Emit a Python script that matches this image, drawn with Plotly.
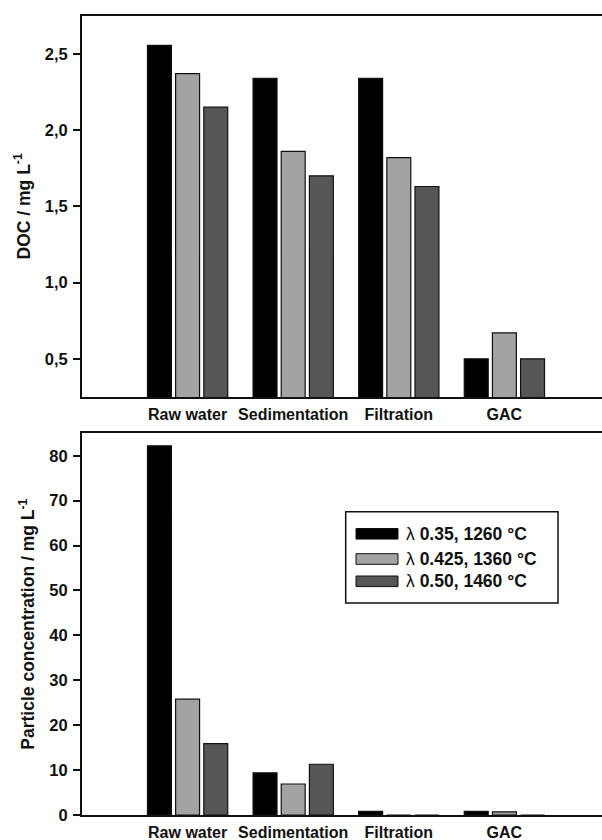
import plotly.graph_objects as go

categories = ["Raw water", "Sedimentation", "Filtration", "GAC"]
series_names = ["λ 0.35, 1260 °C", "λ 0.425, 1360 °C", "λ 0.50, 1460 °C"]
series_labels = ["0.35, 1260 °C", "0.425, 1360 °C", "0.50, 1460 °C"]
doc_035 = [2.555, 2.34, 2.34, 0.50]
doc_0425 = [2.37, 1.86, 1.82, 0.67]
doc_050 = [2.15, 1.70, 1.63, 0.50]
part_035 = [82.2, 9.4, 0.8, 0.8]
part_0425 = [25.8, 6.9, 0.0, 0.7]
part_050 = [15.9, 11.3, 0.0, 0.0]
colors = ["#000000", "#a3a3a3", "#565656"]

W, H = 602, 840
FONT = "Liberation Sans, Arial, sans-serif"

fig = go.Figure()
doc_series = [doc_035, doc_0425, doc_050]
part_series = [part_035, part_0425, part_050]
for i in range(3):
    fig.add_trace(go.Bar(x=categories, y=doc_series[i], name=series_names[i],
                         marker=dict(color=colors[i], line=dict(color="#111111", width=1.2)),
                         xaxis="x", yaxis="y", showlegend=False, hoverinfo="skip"))
for i in range(3):
    fig.add_trace(go.Bar(x=categories, y=part_series[i], name=series_names[i],
                         marker=dict(color=colors[i], line=dict(color="#111111", width=1.2)),
                         xaxis="x2", yaxis="y2", showlegend=False, hoverinfo="skip"))

def px_x(p):
    return p / W

def px_y(p):
    return 1 - p / H

tickfont = dict(family=FONT, size=16.5, color="#111111", weight="bold")
titlefont = dict(family=FONT, size=17.5, color="#111111", weight="bold")
xr = [-1, -1 + (W - 82) / 105.6]

common_x = dict(type="category", range=xr, showline=True, linewidth=2, linecolor="#111111",
                mirror=True, ticks="", tickfont=dict(family=FONT, size=16, color="#111111", weight="bold"),
                ticklabelstandoff=2, showgrid=False, zeroline=False, automargin=False)
common_y = dict(showline=True, linewidth=2, linecolor="#111111", ticks="outside", ticklen=7,
                tickwidth=1.5, tickcolor="#111111", tickfont=tickfont, showgrid=False, zeroline=False,
                ticklabelstandoff=2, automargin=False)

fig.update_layout(
    width=W, height=H,
    margin=dict(l=0, r=0, t=0, b=0, autoexpand=False),
    paper_bgcolor="white", plot_bgcolor="white",
    separators=",.",
    barmode="group", bargap=0.2, bargroupgap=0.15,
    showlegend=False,
    xaxis=dict(domain=[px_x(82), 1.0], anchor="y", **common_x),
    yaxis=dict(domain=[px_y(397), px_y(15.7)], anchor="x", range=[0.25, 2.75],
               tickvals=[0.5, 1.0, 1.5, 2.0, 2.5], tickformat=".1f",
               title=dict(text="DOC / mg L<sup>-1</sup>", font=titlefont, standoff=10), **common_y),
    xaxis2=dict(domain=[px_x(82), 1.0], anchor="y2", **common_x),
    yaxis2=dict(domain=[px_y(815), px_y(433.3)], anchor="x2", range=[0, 85],
                tickvals=[0, 10, 20, 30, 40, 50, 60, 70, 80],
                title=dict(text="Particle concentration / mg L<sup>-1</sup>", font=titlefont, standoff=10),
                **common_y),
)

# Legend drawn manually
shapes = [dict(type="rect", xref="paper", yref="paper",
               x0=px_x(345.7), x1=px_x(558), y0=px_y(603), y1=px_y(511.7),
               line=dict(color="#111111", width=1.5), fillcolor="white", layer="above")]
centers = [533.8, 559, 581.3]
annotations = []
for i in range(3):
    c = centers[i]
    shapes.append(dict(type="rect", xref="paper", yref="paper",
                       x0=px_x(356), x1=px_x(398), y0=px_y(c + 5.3), y1=px_y(c - 5.3),
                       line=dict(color="#111111", width=1), fillcolor=colors[i], layer="above"))
    annotations.append(dict(xref="paper", yref="paper", x=px_x(404), y=px_y(c),
                            xanchor="left", yanchor="middle", showarrow=False,
                            text="λ <b>" + series_labels[i] + "</b>",
                            font=dict(family=FONT, size=17.5, color="#111111")))
fig.update_layout(shapes=shapes, annotations=annotations)

fig.write_html("out.html", config={"displayModeBar": False},
               post_script="document.body.style.margin='0';")
